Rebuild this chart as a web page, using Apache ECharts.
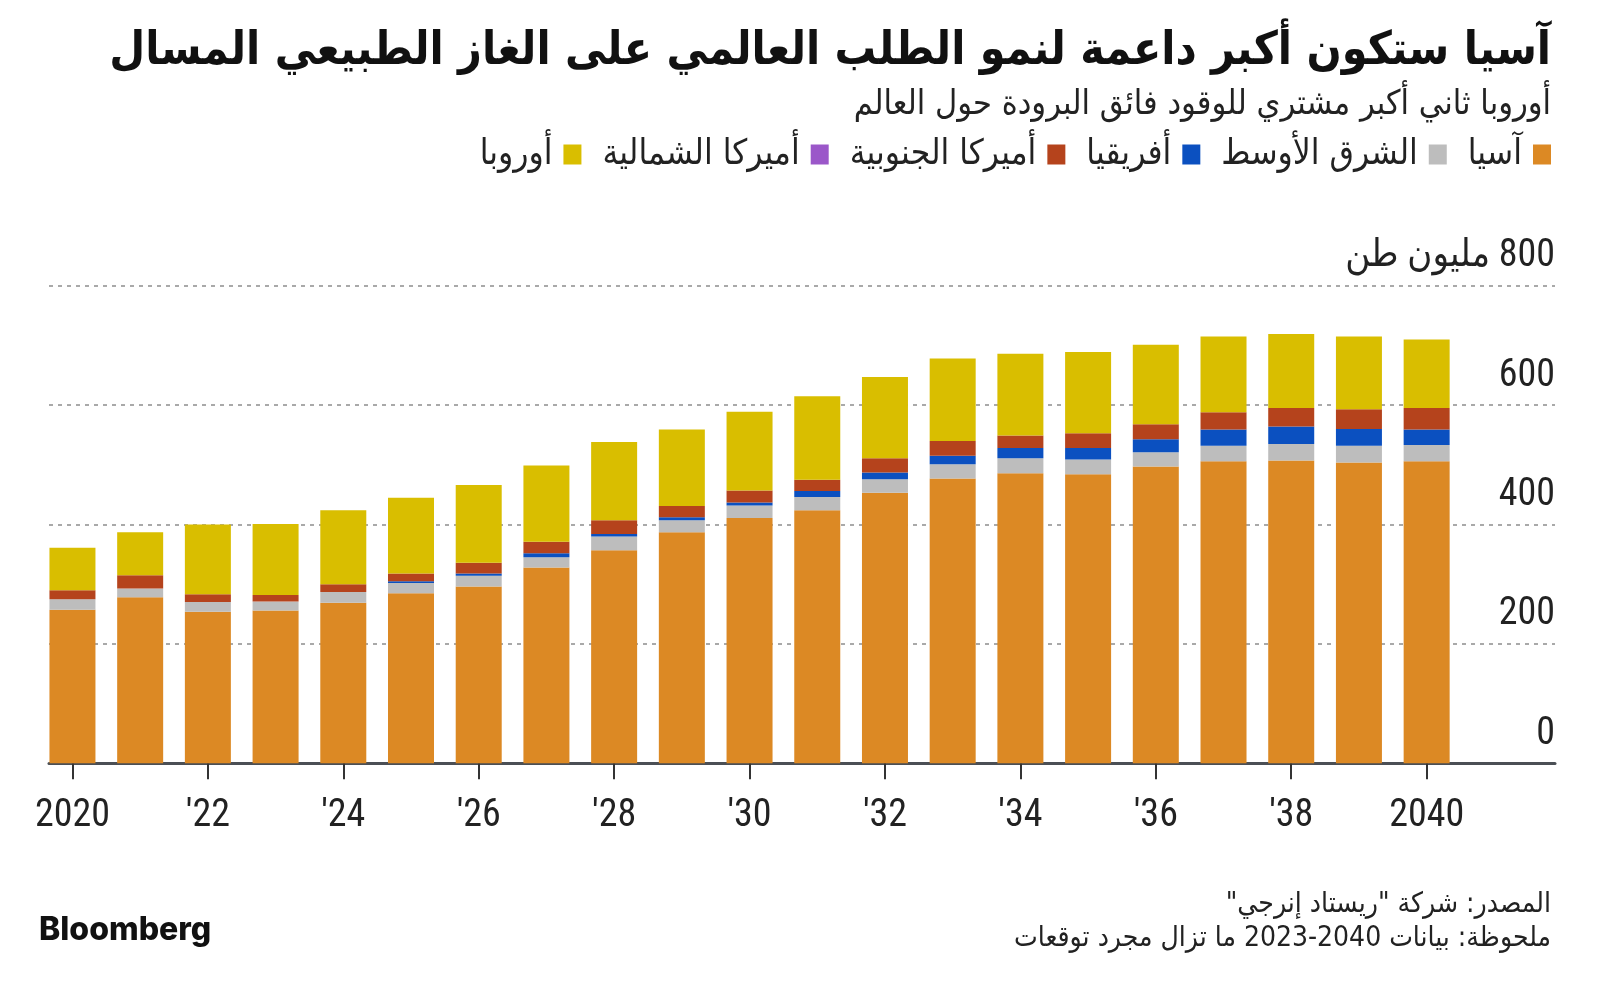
<!DOCTYPE html>
<html>
<head>
<meta charset="utf-8">
<script src="https://cdn.jsdelivr.net/npm/echarts@6/dist/echarts.min.js"></script>
<style>
html,body{margin:0;padding:0;background:#ffffff;}
#chart{width:1600px;height:988px;}
</style>
</head>
<body>
<div id="chart"></div>
<script>
// ---- data ----
const years = ['2020','2021','2022','2023','2024','2025','2026','2027','2028','2029','2030','2031','2032','2033','2034','2035','2036','2037','2038','2039','2040'];
const yearLabels = ['2020','','\'22','','\'24','','\'26','','\'28','','\'30','','\'32','','\'34','','\'36','','\'38','','2040'];
const asia         = [257,278,254,256,269,285,296,328,357,387,411,424,453,477,486,484,497,506,507,504,506];
const middleEast   = [18,15,16,15,18,17,18,17,23,20,21,22,23,24,25,25,24,26,28,28,27];
const africa       = [0,0,0,0,0,3,4,7,4,5,5,10,11,14,17,19,22,27,29,28,26];
const southAmerica = [15,22,13,11,13,13,18,19,23,19,20,19,24,25,21,25,25,29,31,33,36];
const northAmerica = [0,0,0,0,0,0,0,0,0,0,0,0,0,0,0,0,0,0,0,0,0];
const europe       = [71,72,117,119,124,127,130,128,131,128,132,140,136,138,137,136,133,127,124,122,115];
const seriesNames = ['آسيا','الشرق الأوسط','أفريقيا','أميركا الجنوبية','أميركا الشمالية','أوروبا'];
const yTicks = [0,200,400,600,800];
const unitText = 'مليون طن';
const titleText = 'آسيا ستكون أكبر داعمة لنمو الطلب العالمي على الغاز الطبيعي المسال';
const subtitleText = 'أوروبا ثاني أكبر مشتري للوقود فائق البرودة حول العالم';
const sourceText = 'المصدر: شركة "ريستاد إنرجي"';
const noteYears = '2023-2040';
const noteText = 'ملحوظة: بيانات {years} ما تزال مجرد توقعات';

// ---- styles ----
const colors = ['#DC8924','#BDBDBD','#0B50C0','#B5431C','#9B57C9','#D9BE00'];
const RLE = '\u202B', LRE = '\u202A', PDF = '\u202C';
const rtl = s => RLE + s + PDF;
const arabicFont = '"DejaVu Sans Condensed","DejaVu Sans",sans-serif';
const numFont = '"Roboto Condensed","Open Sans Condensed","Liberation Sans Narrow","Arial Narrow","DejaVu Sans Condensed",sans-serif';

const seriesData = [asia, middleEast, africa, southAmerica, northAmerica, europe];

const chart = echarts.init(document.getElementById('chart'), null, {renderer:'canvas'});

const gridTop = 285.7, gridBottom = 224.7;

const option = {
  animation:false,
  backgroundColor:'#ffffff',
  title:[
    {text: rtl(titleText), right: 49, top: 29, padding:0,
     textStyle:{fontFamily: arabicFont, fontWeight:'bold', fontSize:46, color:'#111'}},
    {text: rtl(subtitleText), right: 49, top: 88, padding:0,
     textStyle:{fontFamily: arabicFont, fontWeight:'normal', fontSize:34, color:'#222'}},
    {text: rtl(sourceText), right: 49, top: 891, padding:0,
     textStyle:{fontFamily: arabicFont, fontWeight:'normal', fontSize:28, color:'#222'}},
    {text: rtl(noteText.replace('{years}', LRE + noteYears + PDF)), right: 49, top: 925, padding:0,
     textStyle:{fontFamily: arabicFont, fontWeight:'normal', fontSize:28, color:'#222'}},
    {text: 'Bloomberg', left: 39, top: 914, padding:0,
     textStyle:{fontFamily: 'Inter, sans-serif', fontWeight:800, fontSize:32, color:'#111'}}
  ],
  legend:{
    data: seriesNames.slice().reverse(),
    right: 49, top: 137, padding:0,
    align:'right',
    icon:'rect',
    itemWidth:18, itemHeight:20, itemGap:21,
    selectedMode:false,
    textStyle:{fontFamily: arabicFont, fontSize:35, color:'#222', padding:[0,6,0,0]}
  },
  grid:[
    {left:38.6, right:139.5, top:gridTop, bottom:gridBottom},
    {left:49, right:45, top:gridTop, bottom:gridBottom}
  ],
  xAxis:[
    {type:'category', gridIndex:0, data: years,
     axisLine:{show:false},
     axisTick:{show:true, interval:1, alignWithLabel:true, length:16, lineStyle:{color:'#333', width:2}},
     axisLabel:{interval:1, margin:34, fontFamily:numFont, fontSize:38, color:'#222',
       formatter:(v, i) => yearLabels[i]}
    },
    {type:'value', gridIndex:1, min:0, max:1,
     axisLine:{show:true, onZero:false, lineStyle:{color:'#4b4f55', width:3}},
     axisTick:{show:false}, axisLabel:{show:false}, splitLine:{show:false}}
  ],
  yAxis:[
    {type:'value', gridIndex:0, min:0, max:800, interval:200, show:false},
    {type:'value', gridIndex:1, min:0, max:800, interval:200, position:'right',
     axisLine:{show:false}, axisTick:{show:false},
     splitLine:{show:true, lineStyle:{color:'#a9a9a9', type:[4,5], width:2}},
     axisLabel:{inside:true, margin:0, align:'right', verticalAlign:'bottom', padding:[0,0,10,0],
       fontFamily:numFont, fontSize:38, color:'#222',
       formatter: v => (v === yTicks[yTicks.length-1] ? rtl(v + ' ' + unitText) : String(v))}
    }
  ],
  series: seriesNames.map((name, k) => ({
    name, type:'bar', stack:'total', xAxisIndex:0, yAxisIndex:0,
    barWidth:46, data: seriesData[k], itemStyle:{color: colors[k]}, z: 3
  }))
};
chart.setOption(option);
</script>
</body>
</html>
